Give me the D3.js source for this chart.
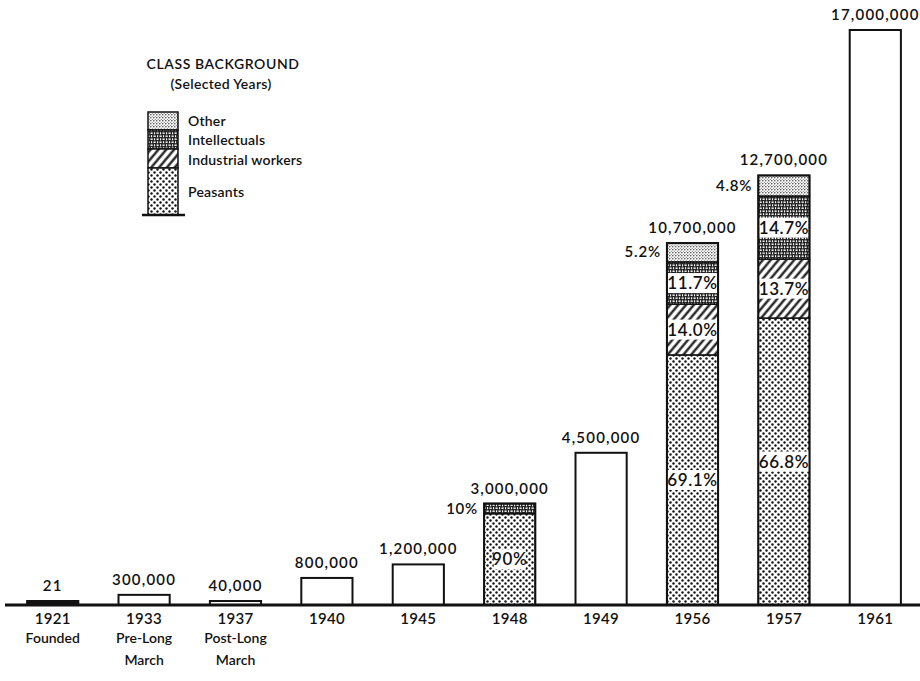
<!DOCTYPE html>
<html>
<head>
<meta charset="utf-8">
<script src="https://cdn.jsdelivr.net/npm/d3@7/dist/d3.min.js"></script>
<style>
  body { margin: 0; background: #fff; }
  svg text { font-family: Lato, "Noto Sans", sans-serif; fill: #111; font-weight: 600; }
</style>
</head>
<body>
<div id="chart"></div>
<script>
// membership by year
var years = ["1921", "1933", "1937", "1940", "1945", "1948", "1949", "1956", "1957", "1961"];
var subLabels = [["Founded"], ["Pre-Long", "March"], ["Post-Long", "March"], [], [], [], [], [], [], []];
var members = [21, 300000, 40000, 800000, 1200000, 3000000, 4500000, 10700000, 12700000, 17000000];

// class background shares (percent), bottom to top
var classKeys = ["Peasants", "Industrial workers", "Intellectuals", "Other"];
var share1948 = [90, 0, 10, 0];
var share1956 = [69.1, 14.0, 11.7, 5.2];
var share1957 = [66.8, 13.7, 14.7, 4.8];
var shareLabels = {
  "1948": ["90%", "", "10%", ""],
  "1956": ["69.1%", "14.0%", "11.7%", "5.2%"],
  "1957": ["66.8%", "13.7%", "14.7%", "4.8%"]
};

var W = 920, H = 681;
var svg = d3.select("#chart").append("svg").attr("width", W).attr("height", H);

// ---- patterns
var defs = svg.append("defs");
var p = defs.append("pattern").attr("id", "pat-peasants").attr("patternUnits", "userSpaceOnUse")
  .attr("width", 6).attr("height", 6);
p.append("rect").attr("width", 6).attr("height", 6).attr("fill", "#fff");
p.append("circle").attr("cx", 1.5).attr("cy", 1.5).attr("r", 1.2).attr("fill", "#111");
p.append("circle").attr("cx", 4.5).attr("cy", 4.5).attr("r", 1.2).attr("fill", "#111");

p = defs.append("pattern").attr("id", "pat-industrial").attr("patternUnits", "userSpaceOnUse")
  .attr("width", 6).attr("height", 6).attr("patternTransform", "rotate(40)");
p.append("rect").attr("width", 6).attr("height", 6).attr("fill", "#fff");
p.append("line").attr("x1", 1.5).attr("x2", 1.5).attr("y1", 0).attr("y2", 6)
  .attr("stroke", "#111").attr("stroke-width", 2.2);

p = defs.append("pattern").attr("id", "pat-intellectuals").attr("patternUnits", "userSpaceOnUse")
  .attr("width", 6).attr("height", 6);
p.append("rect").attr("width", 6).attr("height", 6).attr("fill", "#222");
p.append("rect").attr("x", 0.5).attr("y", 0.5).attr("width", 2.2).attr("height", 1.4).attr("fill", "#fff");
p.append("rect").attr("x", 3.5).attr("y", 3.5).attr("width", 2.2).attr("height", 1.4).attr("fill", "#fff");
p.append("rect").attr("x", 4).attr("y", 0.3).attr("width", 1.1).attr("height", 2).attr("fill", "#fff");
p.append("rect").attr("x", 1).attr("y", 3.2).attr("width", 1.1).attr("height", 2).attr("fill", "#fff");

p = defs.append("pattern").attr("id", "pat-other").attr("patternUnits", "userSpaceOnUse")
  .attr("width", 3).attr("height", 3);
p.append("rect").attr("width", 3).attr("height", 3).attr("fill", "#fff");
p.append("circle").attr("cx", 0.8).attr("cy", 0.8).attr("r", 0.75).attr("fill", "#333");
p.append("circle").attr("cx", 2.3).attr("cy", 2.2).attr("r", 0.55).attr("fill", "#555");

var patFor = {
  "Peasants": "url(#pat-peasants)",
  "Industrial workers": "url(#pat-industrial)",
  "Intellectuals": "url(#pat-intellectuals)",
  "Other": "url(#pat-other)"
};

// ---- scales
var baseY = 605;
var x = d3.scaleBand().domain(years).range([7, 921]).paddingInner(0.44).paddingOuter(0.22);
var y = d3.scaleLinear().domain([0, 17000000]).range([baseY, 30]);

var data = years.map(function(yr, i) { return {year: yr, value: members[i], sub: subLabels[i]}; });
var shares = {"1948": share1948, "1956": share1956, "1957": share1957};

var g = svg.append("g");

// ---- bars
data.forEach(function(d) {
  var x0 = x(d.year), bw = x.bandwidth();
  var top = y(d.value);
  var h = Math.max(baseY - top, 4);
  if (shares[d.year]) {
    var s = shares[d.year], acc = 0;
    var segs = [];
    s.forEach(function(v, k) {
      if (v <= 0) return;
      var y1 = y(d.value * acc / 100), y2 = y(d.value * (acc + v) / 100);
      segs.push({key: classKeys[k], y1: y1, y2: y2, label: shareLabels[d.year][k], k: k});
      acc += v;
    });
    // 1948's small top share drawn as intellectuals pattern
    g.selectAll(null).data(segs).enter().append("rect")
      .attr("x", x0).attr("width", bw)
      .attr("y", function(s) { return s.y2; })
      .attr("height", function(s) { return s.y1 - s.y2; })
      .attr("fill", function(s) { return patFor[s.key]; })
      .attr("stroke", "#111").attr("stroke-width", 1.5);
    segs.forEach(function(s) {
      if (!s.label) return;
      var mid = (s.y1 + s.y2) / 2;
      var isTop = (s === segs[segs.length - 1]);
      if (isTop) {
        g.append("text").attr("x", x0 - 6).attr("y", mid + 5)
          .attr("text-anchor", "end").attr("font-size", 15).attr("letter-spacing", 0.8)
          .text(s.label);
      } else {
        var tw = s.label.length * 10;
        var bwid = (s.key === "Peasants") ? tw + 2 : bw - 2;
        g.append("rect").attr("x", x0 + bw / 2 - bwid / 2).attr("y", mid - 10)
          .attr("width", bwid).attr("height", 20).attr("fill", "#fff");
        g.append("text").attr("x", x0 + bw / 2).attr("y", mid + 6)
          .attr("text-anchor", "middle").attr("font-size", 17).attr("font-weight", 500)
          .attr("letter-spacing", 0.6)
          .text(s.label);
      }
    });
    g.append("rect").attr("x", x0).attr("y", top).attr("width", bw).attr("height", baseY - top)
      .attr("fill", "none").attr("stroke", "#111").attr("stroke-width", 2);
  } else {
    g.append("rect").attr("x", x0).attr("y", baseY - h).attr("width", bw).attr("height", h)
      .attr("fill", d.value < 100 ? "#111" : "#fff")
      .attr("stroke", "#111").attr("stroke-width", 2);
  }
  g.append("text").attr("x", x0 + bw / 2).attr("y", baseY - h - 10)
    .attr("text-anchor", "middle").attr("font-size", 15).attr("letter-spacing", 1.2)
    .text(d3.format(",")(d.value));
});

// ---- axis
var axis = svg.append("g").attr("transform", "translate(0," + baseY + ")")
  .call(d3.axisBottom(x).tickSize(0).tickPadding(8));
axis.select(".domain").remove();
axis.append("line").attr("x1", 5).attr("x2", 920).attr("y1", 0).attr("y2", 0)
  .attr("stroke", "#111").attr("stroke-width", 3);
axis.selectAll(".tick text")
  .attr("font-size", 15).attr("fill", "#111").attr("letter-spacing", 0.3)
  .style("font-family", "Lato, sans-serif")
  .each(function(yr, i) {
    var t = d3.select(this);
    data[i].sub.forEach(function(line, j) {
      d3.select(t.node().parentNode).append("text")
        .attr("y", 38 + j * 22).attr("text-anchor", "middle")
        .attr("font-size", 14).text(line);
    });
  });

// ---- legend
var leg = svg.append("g");
leg.append("text").attr("x", 223).attr("y", 69).attr("text-anchor", "middle")
  .attr("font-size", 14).attr("font-weight", 500).attr("letter-spacing", 0.6).text("CLASS BACKGROUND");
leg.append("text").attr("x", 221).attr("y", 89).attr("text-anchor", "middle")
  .attr("font-size", 14).attr("font-weight", 500).attr("letter-spacing", 0.3).text("(Selected Years)");
var legItems = [
  {key: "Other", y1: 112, y2: 130, ty: 126},
  {key: "Intellectuals", y1: 130, y2: 149, ty: 145},
  {key: "Industrial workers", y1: 149, y2: 168, ty: 165},
  {key: "Peasants", y1: 168, y2: 215, ty: 197}
];
leg.selectAll(null).data(legItems).enter().append("rect")
  .attr("x", 148).attr("width", 30)
  .attr("y", function(d) { return d.y1; })
  .attr("height", function(d) { return d.y2 - d.y1; })
  .attr("fill", function(d) { return patFor[d.key]; })
  .attr("stroke", "#111").attr("stroke-width", 1.5);
leg.selectAll(null).data(legItems).enter().append("text")
  .attr("x", 188).attr("y", function(d) { return d.ty; })
  .attr("font-size", 14).attr("font-weight", 700).attr("letter-spacing", 0.2)
  .text(function(d) { return d.key; });
leg.append("line").attr("x1", 142).attr("x2", 185).attr("y1", 215).attr("y2", 215)
  .attr("stroke", "#111").attr("stroke-width", 2.5);
</script>
</body>
</html>
